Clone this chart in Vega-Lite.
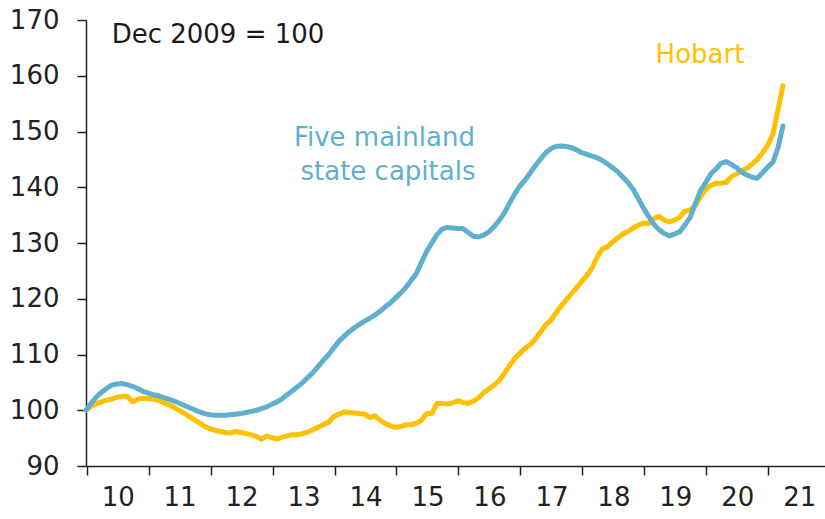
{
  "$schema": "https://vega.github.io/schema/vega-lite/v6.json",
  "width": 739,
  "height": 446,
  "autosize": {"type": "none"},
  "padding": {"left": 86, "top": 20, "right": 0, "bottom": 53},
  "background": "white",
  "config": {
    "view": {"stroke": null},
    "font": "DejaVu Sans",
    "axis": {
      "grid": false,
      "title": null,
      "domainColor": "#222222",
      "domainWidth": 1.5,
      "tickColor": "#222222",
      "tickWidth": 1.5,
      "tickSize": 9,
      "labelFont": "DejaVu Sans",
      "labelFontSize": 26,
      "labelColor": "#222222"
    }
  },
  "datasets": {
    "series": [
      {"d": "2009/12/28", "m": 100.0, "h": 100.0},
      {"d": "2010/01/28", "m": 101.3, "h": 100.7},
      {"d": "2010/02/28", "m": 102.4, "h": 101.2},
      {"d": "2010/03/28", "m": 103.2, "h": 101.5},
      {"d": "2010/04/28", "m": 103.9, "h": 101.8},
      {"d": "2010/05/28", "m": 104.5, "h": 102.0},
      {"d": "2010/06/28", "m": 104.7, "h": 102.3},
      {"d": "2010/07/28", "m": 104.8, "h": 102.5},
      {"d": "2010/08/28", "m": 104.6, "h": 102.5},
      {"d": "2010/09/28", "m": 104.3, "h": 101.5},
      {"d": "2010/10/28", "m": 103.9, "h": 102.0},
      {"d": "2010/11/28", "m": 103.4, "h": 102.1},
      {"d": "2010/12/28", "m": 103.1, "h": 102.1},
      {"d": "2011/01/28", "m": 102.8, "h": 102.0},
      {"d": "2011/02/28", "m": 102.6, "h": 101.8},
      {"d": "2011/03/28", "m": 102.3, "h": 101.4},
      {"d": "2011/04/28", "m": 102.0, "h": 101.0},
      {"d": "2011/05/28", "m": 101.7, "h": 100.6},
      {"d": "2011/06/28", "m": 101.3, "h": 100.0},
      {"d": "2011/07/28", "m": 100.9, "h": 99.5},
      {"d": "2011/08/28", "m": 100.5, "h": 98.9},
      {"d": "2011/09/28", "m": 100.1, "h": 98.3},
      {"d": "2011/10/28", "m": 99.7, "h": 97.7},
      {"d": "2011/11/28", "m": 99.4, "h": 97.1},
      {"d": "2011/12/28", "m": 99.2, "h": 96.7},
      {"d": "2012/01/28", "m": 99.1, "h": 96.4},
      {"d": "2012/02/28", "m": 99.1, "h": 96.2},
      {"d": "2012/03/28", "m": 99.1, "h": 96.0},
      {"d": "2012/04/28", "m": 99.2, "h": 95.9},
      {"d": "2012/05/28", "m": 99.3, "h": 96.2},
      {"d": "2012/06/28", "m": 99.4, "h": 96.0},
      {"d": "2012/07/28", "m": 99.6, "h": 95.8},
      {"d": "2012/08/28", "m": 99.8, "h": 95.6},
      {"d": "2012/09/28", "m": 100.0, "h": 95.3},
      {"d": "2012/10/28", "m": 100.3, "h": 94.8},
      {"d": "2012/11/28", "m": 100.6, "h": 95.4},
      {"d": "2012/12/28", "m": 101.1, "h": 95.1},
      {"d": "2013/01/28", "m": 101.5, "h": 94.8},
      {"d": "2013/02/28", "m": 102.1, "h": 95.2},
      {"d": "2013/03/28", "m": 102.8, "h": 95.4},
      {"d": "2013/04/28", "m": 103.5, "h": 95.6},
      {"d": "2013/05/28", "m": 104.2, "h": 95.6},
      {"d": "2013/06/28", "m": 105.0, "h": 95.8},
      {"d": "2013/07/28", "m": 105.9, "h": 96.1},
      {"d": "2013/08/28", "m": 106.8, "h": 96.5},
      {"d": "2013/09/28", "m": 107.9, "h": 97.0},
      {"d": "2013/10/28", "m": 109.0, "h": 97.4},
      {"d": "2013/11/28", "m": 110.0, "h": 97.9},
      {"d": "2013/12/28", "m": 111.2, "h": 98.9},
      {"d": "2014/01/28", "m": 112.4, "h": 99.3},
      {"d": "2014/02/28", "m": 113.3, "h": 99.7},
      {"d": "2014/03/28", "m": 114.1, "h": 99.6},
      {"d": "2014/04/28", "m": 114.8, "h": 99.5},
      {"d": "2014/05/28", "m": 115.4, "h": 99.4},
      {"d": "2014/06/28", "m": 116.0, "h": 99.3},
      {"d": "2014/07/28", "m": 116.5, "h": 98.7},
      {"d": "2014/08/28", "m": 117.1, "h": 99.0},
      {"d": "2014/09/28", "m": 117.8, "h": 98.2},
      {"d": "2014/10/28", "m": 118.6, "h": 97.6},
      {"d": "2014/11/28", "m": 119.3, "h": 97.2},
      {"d": "2014/12/28", "m": 120.2, "h": 96.9},
      {"d": "2015/01/28", "m": 121.1, "h": 97.1},
      {"d": "2015/02/28", "m": 122.1, "h": 97.4},
      {"d": "2015/03/28", "m": 123.3, "h": 97.4},
      {"d": "2015/04/28", "m": 124.5, "h": 97.7},
      {"d": "2015/05/28", "m": 126.5, "h": 98.2},
      {"d": "2015/06/28", "m": 128.5, "h": 99.4},
      {"d": "2015/07/28", "m": 130.0, "h": 99.4},
      {"d": "2015/08/28", "m": 131.5, "h": 101.2},
      {"d": "2015/09/28", "m": 132.5, "h": 101.2},
      {"d": "2015/10/28", "m": 132.8, "h": 101.1},
      {"d": "2015/11/28", "m": 132.7, "h": 101.3},
      {"d": "2015/12/28", "m": 132.6, "h": 101.7},
      {"d": "2016/01/28", "m": 132.6, "h": 101.4},
      {"d": "2016/02/28", "m": 131.9, "h": 101.2},
      {"d": "2016/03/28", "m": 131.2, "h": 101.6},
      {"d": "2016/04/28", "m": 131.1, "h": 102.2},
      {"d": "2016/05/28", "m": 131.4, "h": 103.1},
      {"d": "2016/06/28", "m": 132.0, "h": 103.8},
      {"d": "2016/07/28", "m": 132.9, "h": 104.5},
      {"d": "2016/08/28", "m": 134.0, "h": 105.3},
      {"d": "2016/09/28", "m": 135.4, "h": 106.6},
      {"d": "2016/10/28", "m": 137.1, "h": 108.0},
      {"d": "2016/11/28", "m": 138.8, "h": 109.3},
      {"d": "2016/12/28", "m": 140.2, "h": 110.2},
      {"d": "2017/01/28", "m": 141.3, "h": 111.1},
      {"d": "2017/02/28", "m": 142.6, "h": 111.8},
      {"d": "2017/03/28", "m": 143.8, "h": 112.7},
      {"d": "2017/04/28", "m": 145.0, "h": 114.0},
      {"d": "2017/05/28", "m": 146.1, "h": 115.3},
      {"d": "2017/06/28", "m": 146.9, "h": 116.1},
      {"d": "2017/07/28", "m": 147.3, "h": 117.4},
      {"d": "2017/08/28", "m": 147.4, "h": 118.7},
      {"d": "2017/09/28", "m": 147.3, "h": 119.8},
      {"d": "2017/10/28", "m": 147.1, "h": 120.9},
      {"d": "2017/11/28", "m": 146.7, "h": 122.0},
      {"d": "2017/12/28", "m": 146.2, "h": 123.1},
      {"d": "2018/01/28", "m": 145.9, "h": 124.2},
      {"d": "2018/02/28", "m": 145.6, "h": 125.6},
      {"d": "2018/03/28", "m": 145.3, "h": 127.4},
      {"d": "2018/04/28", "m": 144.8, "h": 128.9},
      {"d": "2018/05/28", "m": 144.2, "h": 129.3},
      {"d": "2018/06/28", "m": 143.5, "h": 130.2},
      {"d": "2018/07/28", "m": 142.8, "h": 130.9},
      {"d": "2018/08/28", "m": 141.8, "h": 131.6},
      {"d": "2018/09/28", "m": 140.8, "h": 132.1},
      {"d": "2018/10/28", "m": 139.6, "h": 132.7},
      {"d": "2018/11/28", "m": 137.9, "h": 133.2},
      {"d": "2018/12/28", "m": 136.2, "h": 133.6},
      {"d": "2019/01/28", "m": 134.7, "h": 133.5},
      {"d": "2019/02/28", "m": 133.3, "h": 134.4},
      {"d": "2019/03/28", "m": 132.4, "h": 134.8},
      {"d": "2019/04/28", "m": 131.7, "h": 134.1},
      {"d": "2019/05/28", "m": 131.3, "h": 133.8},
      {"d": "2019/06/28", "m": 131.6, "h": 134.1},
      {"d": "2019/07/28", "m": 132.0, "h": 134.6},
      {"d": "2019/08/28", "m": 133.2, "h": 135.7},
      {"d": "2019/09/28", "m": 134.6, "h": 135.9},
      {"d": "2019/10/28", "m": 137.0, "h": 136.6},
      {"d": "2019/11/28", "m": 139.4, "h": 138.3},
      {"d": "2019/12/28", "m": 140.8, "h": 139.6},
      {"d": "2020/01/28", "m": 142.4, "h": 140.3},
      {"d": "2020/02/28", "m": 143.3, "h": 140.7},
      {"d": "2020/03/28", "m": 144.3, "h": 140.7},
      {"d": "2020/04/28", "m": 144.6, "h": 140.9},
      {"d": "2020/05/28", "m": 144.1, "h": 141.9},
      {"d": "2020/06/28", "m": 143.5, "h": 142.4},
      {"d": "2020/07/28", "m": 142.7, "h": 143.0},
      {"d": "2020/08/28", "m": 142.2, "h": 143.4},
      {"d": "2020/09/28", "m": 141.8, "h": 144.2},
      {"d": "2020/10/28", "m": 141.6, "h": 145.0},
      {"d": "2020/11/28", "m": 142.6, "h": 146.2},
      {"d": "2020/12/28", "m": 143.6, "h": 147.5},
      {"d": "2021/01/28", "m": 144.5, "h": 149.5},
      {"d": "2021/02/28", "m": 147.2, "h": 154.0},
      {"d": "2021/03/28", "m": 151.0, "h": 158.2}
    ],
    "labels": [
      {"d": "2012/02/14", "v": 165.87, "text": "Dec 2009 = 100", "series": "note"},
      {"d": "2019/11/25", "v": 162.23, "text": "Hobart", "series": "Hobart"},
      {"d": "2014/10/22", "v": 147.4, "text": "Five mainland", "series": "Mainland"},
      {"d": "2014/11/12", "v": 141.3, "text": "state capitals", "series": "Mainland"}
    ]
  },
  "layer": [
    {
      "data": {"name": "series"},
      "mark": {"type": "line", "color": "#FFC000", "strokeWidth": 5, "strokeJoin": "round", "strokeCap": "round"},
      "encoding": {
        "x": {
          "field": "d", "type": "temporal",
          "scale": {"domain": ["2009/12/28", "2021/12/01"]},
          "axis": {
            "values": ["2010/01/01", "2011/01/01", "2012/01/01", "2013/01/01", "2014/01/01", "2015/01/01", "2016/01/01", "2017/01/01", "2018/01/01", "2019/01/01", "2020/01/01", "2021/01/01"],
            "format": "%y",
            "labelOffset": 31,
            "labelPadding": 9,
            "labelFlush": false,
            "labelOverlap": false
          }
        },
        "y": {
          "field": "h", "type": "quantitative",
          "scale": {"domain": [90, 170], "nice": false, "zero": false},
          "axis": {"values": [90, 100, 110, 120, 130, 140, 150, 160, 170], "labelPadding": 18, "labelFlush": false}
        }
      }
    },
    {
      "data": {"name": "series"},
      "mark": {"type": "line", "color": "#5FB0CF", "strokeWidth": 5, "strokeJoin": "round", "strokeCap": "round"},
      "encoding": {
        "x": {"field": "d", "type": "temporal"},
        "y": {"field": "m", "type": "quantitative"}
      }
    },
    {
      "data": {"name": "labels"},
      "mark": {"type": "text", "fontSize": 26, "align": "center", "baseline": "alphabetic"},
      "encoding": {
        "x": {"field": "d", "type": "temporal"},
        "y": {"field": "v", "type": "quantitative"},
        "text": {"field": "text"},
        "color": {
          "field": "series", "type": "nominal", "legend": null,
          "scale": {"domain": ["note", "Hobart", "Mainland"], "range": ["#1a1a1a", "#FFC000", "#5FB0CF"]}
        }
      }
    }
  ]
}
